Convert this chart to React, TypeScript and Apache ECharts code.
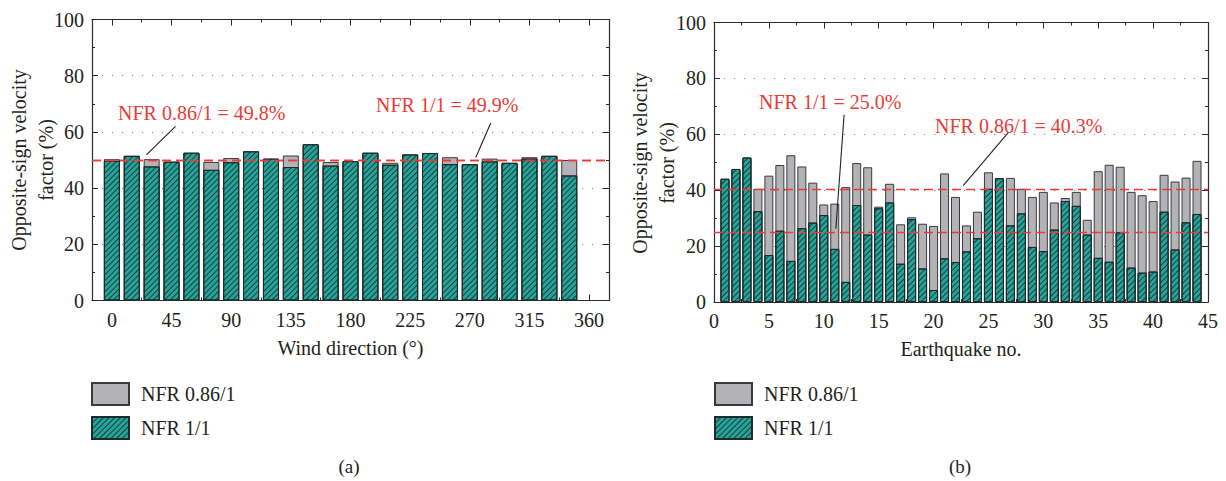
import React, { useEffect, useRef } from "react";
import * as echarts from "echarts";

// ---------- data ----------
const windDirections = [0, 15, 30, 45, 60, 75, 90, 105, 120, 135, 150, 165, 180, 195, 210, 225, 240, 255, 270, 285, 300, 315, 330, 345];
const windNFR086 = [50.3, 51.3, 50.3, 49.3, 52.4, 49.3, 50.7, 52.9, 50.3, 51.6, 55.4, 49.3, 49.4, 52.4, 49.0, 51.8, 52.3, 51.0, 48.4, 50.5, 48.8, 51.0, 51.4, 50.0];
const windNFR1 = [49.7, 51.5, 47.7, 49.4, 52.6, 46.5, 49.2, 53.1, 50.5, 47.5, 55.6, 48.0, 49.6, 52.6, 48.3, 52.0, 52.5, 48.5, 48.5, 49.5, 49.0, 50.5, 51.5, 44.5];
const windTickLabels = [0, 45, 90, 135, 180, 225, 270, 315, 360];
const windMinorTicks = [22.5, 67.5, 112.5, 157.5, 202.5, 247.5, 292.5, 337.5];
const windRefLines = [49.8, 49.9];

const quakeNos = [1, 2, 3, 4, 5, 6, 7, 8, 9, 10, 11, 12, 13, 14, 15, 16, 17, 18, 19, 20, 21, 22, 23, 24, 25, 26, 27, 28, 29, 30, 31, 32, 33, 34, 35, 36, 37, 38, 39, 40, 41, 42, 43, 44];
const quakeNFR086 = [43.5, 47.0, 51.0, 40.5, 45.2, 49.0, 52.5, 48.5, 42.7, 34.9, 35.2, 41.1, 49.7, 48.2, 34.1, 42.3, 27.8, 30.3, 28.0, 27.2, 46.0, 37.6, 27.4, 32.3, 46.4, 44.0, 44.4, 40.5, 37.6, 39.4, 35.6, 37.2, 39.4, 29.4, 46.8, 49.1, 48.4, 39.4, 38.2, 36.1, 45.5, 43.1, 44.5, 50.5];
const quakeNFR1 = [44.1, 47.6, 51.7, 32.5, 16.8, 25.5, 14.7, 26.4, 28.4, 31.1, 19.0, 7.2, 34.7, 24.1, 33.5, 35.6, 13.7, 29.6, 12.0, 4.3, 15.6, 14.3, 18.1, 22.8, 40.5, 44.3, 27.4, 31.7, 19.7, 18.2, 25.9, 36.1, 34.4, 24.1, 15.8, 14.4, 24.9, 12.3, 10.5, 10.9, 32.3, 18.8, 28.5, 31.5];
const quakeRefLines = [40.3, 25.0];

const seriesNames = ["NFR 0.86/1", "NFR 1/1"];
const windNotes = ["NFR 0.86/1 = 49.8%", "NFR 1/1 = 49.9%"];
const quakeNotes = ["NFR 1/1 = 25.0%", "NFR 0.86/1 = 40.3%"];
// arrow endpoints in data coordinates [tail, head]
const windArrows = [[[26, 51.8], [48, 62]], [[274.5, 50.9], [285.8, 63.2]]];
const quakeArrows = [[[11.1, 26.2], [11.85, 67]], [[22.7, 41.6], [26.8, 60.6]]];

// ---------- styles ----------
const FONT = "Liberation Serif, DejaVu Serif, serif";
const TEXT = "#231f20";
const RED = "#ec3a35";
const AXIS = "#2a2a2a";
const GRAY = "#b3b3b7";
const TEAL = "#27a39a";

const hatch = {
  symbol: "rect",
  symbolSize: 1,
  color: "rgba(15,40,40,0.8)",
  dashArrayX: [1, 0],
  dashArrayY: [0.9, 3],
  rotation: -Math.PI / 4,
};

function yAxes(gridIndex: number) {
  const base = {
    gridIndex,
    type: "value",
    min: 0,
    max: 100,
    interval: 20,
    axisLine: { show: true, onZero: false, lineStyle: { color: AXIS, width: 1.2 } },
    axisTick: { show: true, inside: true, length: 6, lineStyle: { color: AXIS } },
    minorTick: { show: true, splitNumber: 2, length: 3, lineStyle: { color: AXIS } },
  };
  return [
    {
      ...base,
      position: "left",
      axisLabel: { show: true, fontSize: 20, fontFamily: FONT, color: TEXT, margin: 8 },
      splitLine: { show: true, lineStyle: { color: "#8a8a8a", type: [1.2, 8.8], width: 1 } },
    },
    {
      ...base,
      position: "right",
      axisLabel: { show: false },
      splitLine: { show: false },
    },
  ];
}

function App() {
  const ref = useRef<HTMLDivElement>(null);

  useEffect(() => {
    if (!ref.current) return;
    const chart = echarts.init(ref.current, undefined, { renderer: "svg" });

    const xLine = { show: true, onZero: false, lineStyle: { color: AXIS, width: 1.2 } };
    const xName = { fontSize: 20, fontFamily: FONT, color: TEXT };

    const arrowLine = (arr: number[][][]) => ({
      silent: true,
      symbol: ["none", "arrow"],
      symbolSize: [0, 12],
      label: { show: false },
      lineStyle: { color: "#222", type: "solid", width: 1.1 },
      emphasis: { disabled: true },
      data: arr.map((a) => [{ coord: a[0] }, { coord: a[1] }]),
    });

    const refLine = (vals: number[]) => ({
      silent: true,
      symbol: "none",
      label: { show: false },
      lineStyle: { color: RED, type: [9, 5], width: 1.4, opacity: 1 },
      emphasis: { disabled: true },
      data: vals.map((v) => ({ yAxis: v })),
    });

    const option: any = {
      animation: false,
      backgroundColor: "#fff",
      grid: [
        { left: 92, top: 19.5, width: 517, height: 281 },
        { left: 714, top: 22.5, width: 494, height: 279.5 },
      ],
      xAxis: [
        {
          gridIndex: 0,
          type: "value",
          position: "bottom",
          min: -15,
          max: 375,
          axisLine: xLine,
          axisTick: { show: true, inside: true, length: 6, customValues: windTickLabels, lineStyle: { color: AXIS } },
          axisLabel: { show: true, customValues: windTickLabels, fontSize: 20, fontFamily: FONT, color: TEXT, margin: 9 },
          splitLine: { show: false },
          name: "Wind direction (°)",
          nameLocation: "middle",
          nameGap: 37,
          nameTextStyle: xName,
        },
        {
          gridIndex: 0, type: "value", position: "bottom", min: -15, max: 375,
          axisLine: { show: false, onZero: false },
          axisTick: { show: true, inside: true, length: 3, customValues: windMinorTicks, lineStyle: { color: AXIS } },
          axisLabel: { show: false }, splitLine: { show: false },
        },
        {
          gridIndex: 0, type: "value", position: "top", min: -15, max: 375,
          axisLine: xLine,
          axisTick: { show: true, inside: true, length: 6, customValues: windTickLabels, lineStyle: { color: AXIS } },
          axisLabel: { show: false }, splitLine: { show: false },
        },
        {
          gridIndex: 0, type: "value", position: "top", min: -15, max: 375,
          axisLine: { show: false, onZero: false },
          axisTick: { show: true, inside: true, length: 3, customValues: windMinorTicks, lineStyle: { color: AXIS } },
          axisLabel: { show: false }, splitLine: { show: false },
        },
        {
          gridIndex: 1,
          type: "value",
          position: "bottom",
          min: 0,
          max: 45,
          interval: 5,
          axisLine: xLine,
          axisTick: { show: true, inside: true, length: 6, lineStyle: { color: AXIS } },
          minorTick: { show: true, splitNumber: 2, length: 3, lineStyle: { color: AXIS } },
          axisLabel: { show: true, fontSize: 20, fontFamily: FONT, color: TEXT, margin: 9 },
          splitLine: { show: false },
          name: "Earthquake no.",
          nameLocation: "middle",
          nameGap: 37,
          nameTextStyle: xName,
        },
        {
          gridIndex: 1, type: "value", position: "top", min: 0, max: 45, interval: 5,
          axisLine: xLine,
          axisTick: { show: true, inside: true, length: 6, lineStyle: { color: AXIS } },
          minorTick: { show: true, splitNumber: 2, length: 3, lineStyle: { color: AXIS } },
          axisLabel: { show: false }, splitLine: { show: false },
        },
      ],
      yAxis: [...yAxes(0), ...yAxes(1)],
      legend: [0, 1].map((i) => ({
        orient: "vertical",
        left: i === 0 ? 91 : 714,
        top: 382,
        padding: 0,
        itemWidth: 37,
        itemHeight: 22,
        itemGap: 10,
        icon: "rect",
        selectedMode: false,
        data: seriesNames,
        textStyle: { fontSize: 20, fontFamily: FONT, color: TEXT, padding: [0, 0, 0, 7] },
      })),
      series: [
        {
          name: seriesNames[0],
          type: "bar",
          xAxisIndex: 0,
          yAxisIndex: 0,
          barWidth: 16,
          barGap: "-100%",
          z: 1,
          itemStyle: { color: GRAY, borderColor: "#3a3a3a", borderWidth: 1 },
          data: windDirections.map((d, i) => [d, windNFR086[i]]),
        },
        {
          name: seriesNames[1],
          type: "bar",
          xAxisIndex: 0,
          yAxisIndex: 0,
          barWidth: 16,
          barGap: "-100%",
          z: 3,
          itemStyle: { color: TEAL, borderColor: "#1f2a2a", borderWidth: 1, decal: hatch },
          data: windDirections.map((d, i) => [d, windNFR1[i]]),
          markLine: arrowLine(windArrows),
        },
        {
          name: "refA",
          type: "line",
          xAxisIndex: 0,
          yAxisIndex: 0,
          z: 5,
          data: [],
          markLine: refLine(windRefLines),
        },
        {
          name: seriesNames[0],
          type: "bar",
          xAxisIndex: 4,
          yAxisIndex: 2,
          barWidth: 9,
          barGap: "-100%",
          z: 1,
          itemStyle: { color: GRAY, borderColor: "#3a3a3a", borderWidth: 1 },
          data: quakeNos.map((d, i) => [d, quakeNFR086[i]]),
        },
        {
          name: seriesNames[1],
          type: "bar",
          xAxisIndex: 4,
          yAxisIndex: 2,
          barWidth: 9,
          barGap: "-100%",
          z: 3,
          itemStyle: { color: TEAL, borderColor: "#1f2a2a", borderWidth: 1, decal: hatch },
          data: quakeNos.map((d, i) => [d, quakeNFR1[i]]),
          markLine: arrowLine(quakeArrows),
        },
        {
          name: "refB",
          type: "line",
          xAxisIndex: 4,
          yAxisIndex: 2,
          z: 5,
          data: [],
          markLine: refLine(quakeRefLines),
        },
      ],
      graphic: [
        // y-axis titles
        { type: "text", x: 19, y: 160, rotation: Math.PI / 2, style: { text: "Opposite-sign velocity", fontSize: 20, fontFamily: FONT, fill: TEXT, align: "center", verticalAlign: "middle" } },
        { type: "text", x: 46, y: 160, rotation: Math.PI / 2, style: { text: "factor (%)", fontSize: 20, fontFamily: FONT, fill: TEXT, align: "center", verticalAlign: "middle" } },
        { type: "text", x: 640, y: 163, rotation: Math.PI / 2, style: { text: "Opposite-sign velocity", fontSize: 20, fontFamily: FONT, fill: TEXT, align: "center", verticalAlign: "middle" } },
        { type: "text", x: 667, y: 163, rotation: Math.PI / 2, style: { text: "factor (%)", fontSize: 20, fontFamily: FONT, fill: TEXT, align: "center", verticalAlign: "middle" } },
        // annotations
        { type: "text", x: 118, y: 112.5, z: 10, style: { text: windNotes[0], fontSize: 20, fontFamily: FONT, fill: RED, align: "left", verticalAlign: "middle" } },
        { type: "text", x: 376, y: 105, z: 10, style: { text: windNotes[1], fontSize: 20, fontFamily: FONT, fill: RED, align: "left", verticalAlign: "middle" } },
        { type: "text", x: 759, y: 102, z: 10, style: { text: quakeNotes[0], fontSize: 20, fontFamily: FONT, fill: RED, align: "left", verticalAlign: "middle" } },
        { type: "text", x: 935, y: 126, z: 10, style: { text: quakeNotes[1], fontSize: 20, fontFamily: FONT, fill: RED, align: "left", verticalAlign: "middle" } },
        // panel labels
        { type: "text", x: 349, y: 466, style: { text: "(a)", fontSize: 19, fontFamily: FONT, fill: TEXT, align: "center", verticalAlign: "middle" } },
        { type: "text", x: 960, y: 466, style: { text: "(b)", fontSize: 19, fontFamily: FONT, fill: TEXT, align: "center", verticalAlign: "middle" } },
      ],
    };

    chart.setOption(option);
    return () => chart.dispose();
  }, []);

  return (
    <div
      ref={ref}
      style={{ position: "absolute", left: 0, top: 0, width: 1226, height: 481, background: "#fff" }}
    />
  );
}

export default App;
